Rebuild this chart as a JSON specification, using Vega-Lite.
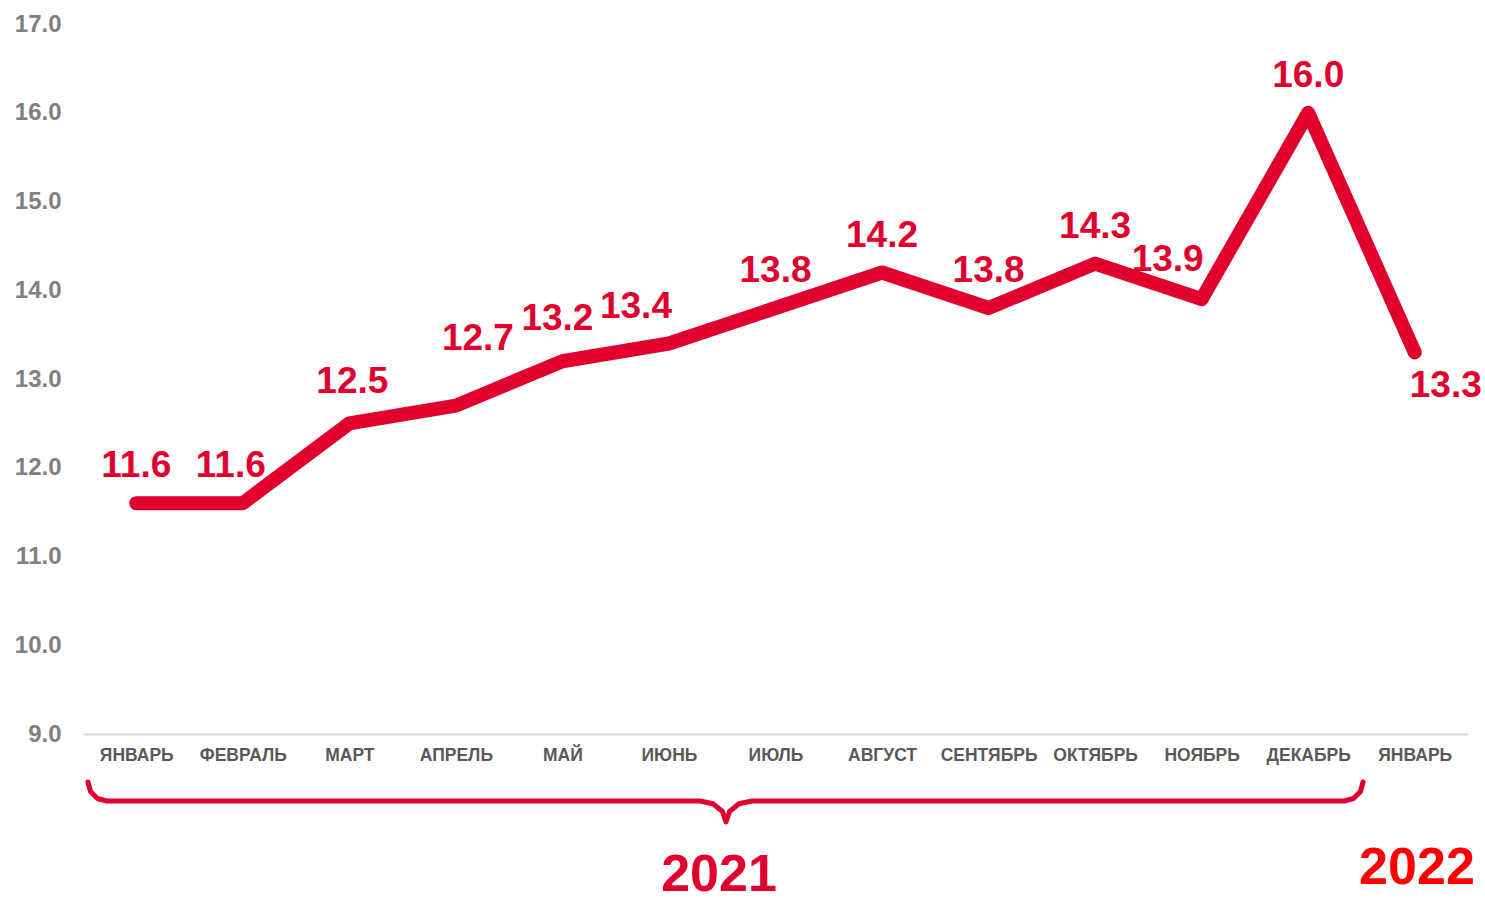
{
  "$schema": "https://vega.github.io/schema/vega-lite/v6.json",
  "width": 1385,
  "height": 710,
  "autosize": "none",
  "padding": {"left": 83, "top": 24, "right": 17, "bottom": 168},
  "background": "white",
  "config": {"view": {"stroke": null}, "font": "Liberation Sans"},
  "datasets": {
    "months": [
      {"i": 0, "month": "ЯНВАРЬ", "year": 2021, "value": 11.6},
      {"i": 1, "month": "ФЕВРАЛЬ", "year": 2021, "value": 11.6},
      {"i": 2, "month": "МАРТ", "year": 2021, "value": 12.5},
      {"i": 3, "month": "АПРЕЛЬ", "year": 2021, "value": 12.7},
      {"i": 4, "month": "МАЙ", "year": 2021, "value": 13.2},
      {"i": 5, "month": "ИЮНЬ", "year": 2021, "value": 13.4},
      {"i": 6, "month": "ИЮЛЬ", "year": 2021, "value": 13.8},
      {"i": 7, "month": "АВГУСТ", "year": 2021, "value": 14.2},
      {"i": 8, "month": "СЕНТЯБРЬ", "year": 2021, "value": 13.8},
      {"i": 9, "month": "ОКТЯБРЬ", "year": 2021, "value": 14.3},
      {"i": 10, "month": "НОЯБРЬ", "year": 2021, "value": 13.9},
      {"i": 11, "month": "ДЕКАБРЬ", "year": 2021, "value": 16.0},
      {"i": 12, "month": "ЯНВАРЬ", "year": 2022, "value": 13.3}
    ],
    "brace": [
      {"k": 1, "bx": -0.4531, "by": 8.4592},
      {"k": 2, "bx": -0.4296, "by": 8.3521},
      {"k": 3, "bx": -0.3639, "by": 8.2732},
      {"k": 4, "bx": -0.2747, "by": 8.2451},
      {"k": 5, "bx": 5.2914, "by": 8.2451},
      {"k": 6, "bx": 5.4134, "by": 8.2135},
      {"k": 7, "bx": 5.5025, "by": 8.1268},
      {"k": 8, "bx": 5.5354, "by": 8.0085},
      {"k": 9, "bx": 5.5682, "by": 8.1268},
      {"k": 10, "bx": 5.6574, "by": 8.2135},
      {"k": 11, "bx": 5.7794, "by": 8.2451},
      {"k": 12, "bx": 11.3362, "by": 8.2451},
      {"k": 13, "bx": 11.4253, "by": 8.2732},
      {"k": 14, "bx": 11.491, "by": 8.3521},
      {"k": 15, "bx": 11.5145, "by": 8.4592}
    ],
    "years": [
      {"label": "2021", "yx": 5.4697, "yy": 7.232, "c": "a"},
      {"label": "2022", "yx": 12.021, "yy": 7.31, "c": "b"}
    ]
  },
  "layer": [
    {
      "data": {"name": "months"},
      "mark": {"type": "line", "color": "#E1002D", "strokeWidth": 14, "strokeCap": "round", "strokeJoin": "round"},
      "encoding": {
        "x": {
          "field": "i", "type": "quantitative",
          "scale": {"domain": [-0.5, 12.5], "nice": false, "zero": false},
          "axis": {
            "title": null, "grid": false, "ticks": false,
            "values": [0, 1, 2, 3, 4, 5, 6, 7, 8, 9, 10, 11, 12],
            "labelExpr": "['ЯНВАРЬ','ФЕВРАЛЬ','МАРТ','АПРЕЛЬ','МАЙ','ИЮНЬ','ИЮЛЬ','АВГУСТ','СЕНТЯБРЬ','ОКТЯБРЬ','НОЯБРЬ','ДЕКАБРЬ','ЯНВАРЬ'][datum.value]",
            "labelFont": "Liberation Sans", "labelFontSize": 17.5, "labelFontWeight": "bold",
            "labelColor": "#595959", "labelPadding": 12, "labelFlush": false, "labelOverlap": false,
            "domainColor": "#d9d9d9", "domainWidth": 2
          }
        },
        "y": {
          "field": "value", "type": "quantitative",
          "scale": {"domain": [9, 17], "nice": false, "zero": false},
          "axis": {
            "title": null, "grid": false, "ticks": false, "domain": false,
            "values": [9, 10, 11, 12, 13, 14, 15, 16, 17], "format": ".1f",
            "labelFont": "Liberation Sans", "labelFontSize": 24, "labelFontWeight": "bold",
            "labelColor": "#808080", "labelPadding": 22
          }
        }
      }
    },
    {
      "data": {"name": "brace"},
      "mark": {"type": "line", "color": "#E1002D", "strokeWidth": 5, "strokeCap": "round", "strokeJoin": "round"},
      "encoding": {
        "x": {"field": "bx", "type": "quantitative"},
        "y": {"field": "by", "type": "quantitative"},
        "order": {"field": "k", "type": "quantitative"}
      }
    },
    {
      "data": {"name": "months"},
      "transform": [{"filter": "indexof([0,6,7,8,9,11], datum.i) >= 0"}],
      "mark": {"type": "text", "color": "#E1002D", "font": "Liberation Sans", "fontSize": 37, "fontWeight": "bold", "baseline": "alphabetic", "align": "center", "dx": 0, "dy": -26},
      "encoding": {
        "x": {"field": "i", "type": "quantitative"},
        "y": {"field": "value", "type": "quantitative"},
        "text": {"field": "value", "type": "quantitative", "format": ".1f"}
      }
    },
    {
      "data": {"name": "months"},
      "transform": [{"filter": "datum.i == 1"}],
      "mark": {"type": "text", "color": "#E1002D", "font": "Liberation Sans", "fontSize": 37, "fontWeight": "bold", "baseline": "alphabetic", "align": "center", "dx": -12, "dy": -26},
      "encoding": {
        "x": {"field": "i", "type": "quantitative"},
        "y": {"field": "value", "type": "quantitative"},
        "text": {"field": "value", "type": "quantitative", "format": ".1f"}
      }
    },
    {
      "data": {"name": "months"},
      "transform": [{"filter": "datum.i == 2"}],
      "mark": {"type": "text", "color": "#E1002D", "font": "Liberation Sans", "fontSize": 37, "fontWeight": "bold", "baseline": "alphabetic", "align": "center", "dx": 3, "dy": -30},
      "encoding": {
        "x": {"field": "i", "type": "quantitative"},
        "y": {"field": "value", "type": "quantitative"},
        "text": {"field": "value", "type": "quantitative", "format": ".1f"}
      }
    },
    {
      "data": {"name": "months"},
      "transform": [{"filter": "datum.i == 3"}],
      "mark": {"type": "text", "color": "#E1002D", "font": "Liberation Sans", "fontSize": 37, "fontWeight": "bold", "baseline": "alphabetic", "align": "center", "dx": 22, "dy": -56},
      "encoding": {
        "x": {"field": "i", "type": "quantitative"},
        "y": {"field": "value", "type": "quantitative"},
        "text": {"field": "value", "type": "quantitative", "format": ".1f"}
      }
    },
    {
      "data": {"name": "months"},
      "transform": [{"filter": "datum.i == 4"}],
      "mark": {"type": "text", "color": "#E1002D", "font": "Liberation Sans", "fontSize": 37, "fontWeight": "bold", "baseline": "alphabetic", "align": "center", "dx": -5, "dy": -31},
      "encoding": {
        "x": {"field": "i", "type": "quantitative"},
        "y": {"field": "value", "type": "quantitative"},
        "text": {"field": "value", "type": "quantitative", "format": ".1f"}
      }
    },
    {
      "data": {"name": "months"},
      "transform": [{"filter": "datum.i == 5"}],
      "mark": {"type": "text", "color": "#E1002D", "font": "Liberation Sans", "fontSize": 37, "fontWeight": "bold", "baseline": "alphabetic", "align": "center", "dx": -33, "dy": -26},
      "encoding": {
        "x": {"field": "i", "type": "quantitative"},
        "y": {"field": "value", "type": "quantitative"},
        "text": {"field": "value", "type": "quantitative", "format": ".1f"}
      }
    },
    {
      "data": {"name": "months"},
      "transform": [{"filter": "datum.i == 10"}],
      "mark": {"type": "text", "color": "#E1002D", "font": "Liberation Sans", "fontSize": 37, "fontWeight": "bold", "baseline": "alphabetic", "align": "center", "dx": -34, "dy": -28},
      "encoding": {
        "x": {"field": "i", "type": "quantitative"},
        "y": {"field": "value", "type": "quantitative"},
        "text": {"field": "value", "type": "quantitative", "format": ".1f"}
      }
    },
    {
      "data": {"name": "months"},
      "transform": [{"filter": "datum.i == 12"}],
      "mark": {"type": "text", "color": "#E1002D", "font": "Liberation Sans", "fontSize": 37, "fontWeight": "bold", "baseline": "alphabetic", "align": "center", "dx": 31, "dy": 45},
      "encoding": {
        "x": {"field": "i", "type": "quantitative"},
        "y": {"field": "value", "type": "quantitative"},
        "text": {"field": "value", "type": "quantitative", "format": ".1f"}
      }
    },
    {
      "data": {"name": "years"},
      "mark": {"type": "text", "font": "Liberation Sans", "fontSize": 52, "fontWeight": "bold", "baseline": "alphabetic", "align": "center"},
      "encoding": {
        "x": {"field": "yx", "type": "quantitative"},
        "y": {"field": "yy", "type": "quantitative"},
        "text": {"field": "label", "type": "nominal"},
        "color": {"field": "c", "type": "nominal", "scale": {"domain": ["a", "b"], "range": ["#E1002D", "#FF0000"]}, "legend": null}
      }
    }
  ]
}
